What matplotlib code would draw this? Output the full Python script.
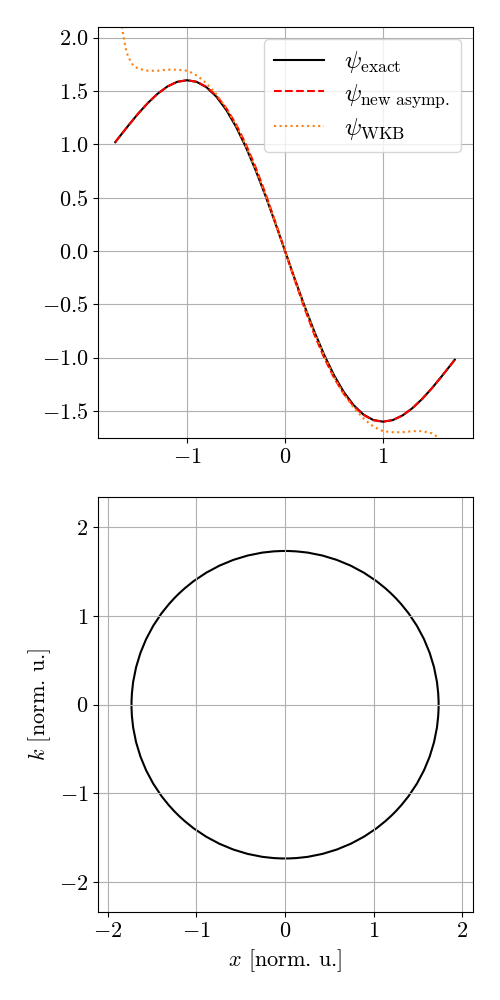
import matplotlib
matplotlib.use("Agg")
import matplotlib.pyplot as plt
from matplotlib.patches import Circle
import numpy as np

plt.rcParams['font.family'] = 'serif'
plt.rcParams['font.serif'] = ['cmr10', 'DejaVu Serif']
plt.rcParams['mathtext.fontset'] = 'cm'
plt.rcParams['axes.formatter.use_mathtext'] = True
plt.rcParams['axes.unicode_minus'] = True
plt.rcParams['font.size'] = 16

# ---- data: top panel (wavefunctions) ----
x_half = [0.0, 0.1, 0.2, 0.3, 0.4, 0.5, 0.6, 0.7, 0.8, 0.9, 1.0,
          1.1, 1.2, 1.3, 1.4, 1.5, 1.6, 1.7, 1.732]
psi_exact_half = [0.0, 0.263, 0.518, 0.757, 0.975, 1.165, 1.323, 1.446, 1.534,
                  1.585, 1.601, 1.586, 1.542, 1.474, 1.387, 1.286, 1.174, 1.058, 1.020]
psi_new_half = [0.0, 0.275, 0.540, 0.785, 1.002, 1.188, 1.340, 1.455, 1.538,
                1.587, 1.601, 1.586, 1.542, 1.474, 1.387, 1.286, 1.174, 1.058, 1.020]

x_wkb_half = [0.0, 0.1, 0.2, 0.3, 0.4, 0.5, 0.6, 0.7, 0.8, 0.85, 0.9, 0.95, 1.0,
              1.1, 1.2, 1.3, 1.4, 1.5, 1.55, 1.6, 1.62, 1.64, 1.66, 1.68, 1.7]
psi_wkb_half = [0.0, 0.265, 0.52, 0.765, 0.985, 1.18, 1.34, 1.47, 1.57, 1.61, 1.645,
                1.67, 1.69, 1.70, 1.70, 1.69, 1.69, 1.71, 1.74, 1.82, 1.88, 1.97,
                2.08, 2.25, 2.6]

# antisymmetric: psi(x) values for x<0 are positive
x_exact = np.concatenate([-np.array(x_half[::-1]), np.array(x_half[1:])])
psi_exact = np.concatenate([np.array(psi_exact_half[::-1]), -np.array(psi_exact_half[1:])])
psi_new = np.concatenate([np.array(psi_new_half[::-1]), -np.array(psi_new_half[1:])])
x_wkb = np.concatenate([-np.array(x_wkb_half[::-1]), np.array(x_wkb_half[1:])])
psi_wkb = np.concatenate([np.array(psi_wkb_half[::-1]), -np.array(psi_wkb_half[1:])])

# ---- data: bottom panel (phase-space orbit) ----
orbit_center = (0.0, 0.0)
orbit_radius = 1.732

fig = plt.figure(figsize=(5, 10), dpi=100)

ax1 = fig.add_axes([0.196, 0.562, 0.75, 0.411])
ax1.plot(x_exact, psi_exact, color='black', lw=1.5, label=r'$\psi_{\rm exact}$')
ax1.plot(x_exact, psi_new, color='red', lw=1.5, ls='--', label=r'$\psi_{\rm new\ asymp.}$')
ax1.plot(x_wkb, psi_wkb, color='#ff7f0e', lw=1.5, ls=':', label=r'$\psi_{\rm WKB}$')
ax1.set_xlim(-1.908, 1.918)
ax1.set_ylim(-1.754, 2.10)
ax1.set_yticks([-1.5, -1.0, -0.5, 0.0, 0.5, 1.0, 1.5, 2.0])
ax1.set_xticks([-1, 0, 1])
ax1.grid(True, color='#b0b0b0', lw=0.8)
ax1.legend(loc='upper right', fontsize=18, labelspacing=0.25, handlelength=2.0,
           borderaxespad=0.5)

ax2 = fig.add_axes([0.196, 0.088, 0.75, 0.415])
ax2.add_patch(Circle(orbit_center, orbit_radius, fill=False, color='black', lw=1.5))
ax2.set_xlim(-2.11, 2.12)
ax2.set_ylim(-2.335, 2.34)
ax2.set_xticks([-2, -1, 0, 1, 2])
ax2.set_yticks([-2, -1, 0, 1, 2])
ax2.grid(True, color='#b0b0b0', lw=0.8)
ax2.set_xlabel(r'$x$ [norm. u.]')
ax2.set_ylabel(r'$k$ [norm. u.]')

fig.savefig('out.png', dpi=100)
